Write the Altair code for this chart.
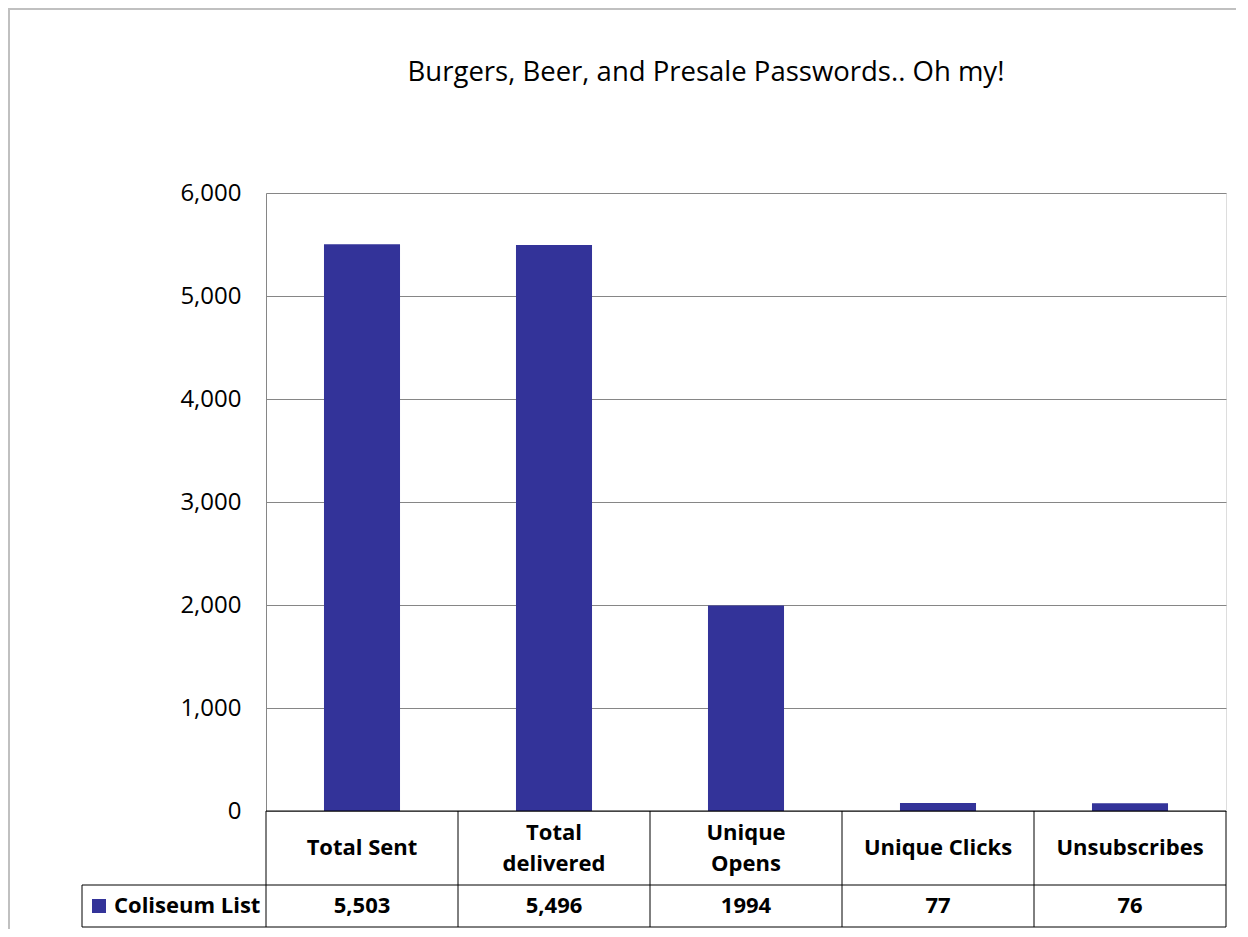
import altair as alt
import pandas as pd

# ---- data ----
categories = ["Total Sent", "Total delivered", "Unique Opens", "Unique Clicks", "Unsubscribes"]
category_lines = [["Total Sent"], ["Total", "delivered"], ["Unique", "Opens"], ["Unique Clicks"], ["Unsubscribes"]]
values = [5503, 5496, 1994, 77, 76]
value_labels = ["5,503", "5,496", "1994", "77", "76"]
series_name = "Coliseum List"
title_text = "Burgers, Beer, and Presale Passwords.. Oh my!"
y_ticks = [0, 1000, 2000, 3000, 4000, 5000, 6000]

df = pd.DataFrame({
    "category": categories,
    "lines": category_lines,
    "value": values,
    "vlabel": value_labels,
})

BAR = "#333399"
FONT = "Open Sans"
TFS = 22          # table font size
LH = 31           # table line height
W, H = 960, 618
ROW1_BOTTOM = 692   # px below plot top
ROW2_BOTTOM = 734
ROW1_MID = (H + ROW1_BOTTOM) / 2
ROW2_MID = (ROW1_BOTTOM + ROW2_BOTTOM) / 2
LEGEND_LEFT = -184 / 192  # legend cell starts left of plot, in column units

x_band = alt.X("category:N", sort=categories, axis=None,
               scale=alt.Scale(paddingInner=0.604, paddingOuter=0.302))

bars = alt.Chart(df).mark_bar(color=BAR).encode(
    x=x_band,
    y=alt.Y("value:Q",
            scale=alt.Scale(domain=[0, 6000], nice=False),
            axis=alt.Axis(values=y_ticks, format=",d", title=None, ticks=False,
                          grid=True, gridColor="#868686", domainColor="#868686",
                          labelFont=FONT, labelFontSize=24, labelColor="#000000",
                          labelPadding=25)),
)

cat_text = alt.Chart(df).transform_calculate(
    ypix=f"{ROW1_MID} - (length(datum.lines) - 1) * {LH / 2}"
).mark_text(
    font=FONT, fontSize=TFS, fontWeight="bold", color="#000000",
    baseline="middle", lineHeight=LH).encode(
    x=x_band, y=alt.Y("ypix:Q", scale=None, axis=None), text="lines")

val_text = alt.Chart(df).mark_text(font=FONT, fontSize=TFS, fontWeight="bold",
                                   color="#000000", baseline="middle").encode(
    x=x_band,
    y=alt.value(ROW2_MID),
    text="vlabel",
)

main = alt.layer(bars, cat_text, val_text)

# table grid in column units
n = len(categories)
vlines = pd.DataFrame({"pos": list(range(n + 1))})
x_cols = alt.X("pos:Q", scale=alt.Scale(domain=[0, n], nice=False, zero=False), axis=None)

grid_v = alt.Chart(vlines).mark_rule(color="#000000", strokeWidth=1).encode(
    x=x_cols, y=alt.value(H), y2=alt.value(ROW2_BOTTOM))

hl = pd.DataFrame({"pos": [0, LEGEND_LEFT, LEGEND_LEFT], "pos2": [n, n, n],
                   "row": ["top", "mid", "bot"]})
grid_h_top = alt.Chart(hl[hl.row == "top"]).mark_rule(color="#000000").encode(
    x=x_cols, x2="pos2:Q", y=alt.value(H))
grid_h_mid = alt.Chart(hl[hl.row == "mid"]).mark_rule(color="#000000").encode(
    x=x_cols, x2="pos2:Q", y=alt.value(ROW1_BOTTOM))
grid_h_bot = alt.Chart(hl[hl.row == "bot"]).mark_rule(color="#000000").encode(
    x=x_cols, x2="pos2:Q", y=alt.value(ROW2_BOTTOM))
legend_left = alt.Chart(pd.DataFrame({"pos": [LEGEND_LEFT]})).mark_rule(color="#000000").encode(
    x=x_cols, y=alt.value(ROW1_BOTTOM), y2=alt.value(ROW2_BOTTOM))

grid = alt.layer(grid_v, grid_h_top, grid_h_mid, grid_h_bot, legend_left)

legend_sq = alt.Chart(pd.DataFrame({"s": [series_name]})).mark_square(
    size=196, color=BAR, opacity=1, filled=True).encode(
    x=alt.value(-167), y=alt.value(ROW2_MID))
legend_txt = alt.Chart(pd.DataFrame({"s": [series_name]})).mark_text(
    font=FONT, fontSize=TFS, fontWeight="bold", color="#000000",
    align="left", baseline="middle").encode(
    x=alt.value(-152), y=alt.value(ROW2_MID), text="s:N")

title = alt.Chart(pd.DataFrame({"t": [title_text]})).mark_text(
    font=FONT, fontSize=27.5, color="#000000", align="center", baseline="middle").encode(
    x=alt.value(440), y=alt.value(-120), text="t:N")

# outer chart frame (only top and left edges fall inside the picture)
frame_top = alt.Chart(pd.DataFrame({"b": [1]})).mark_rule(
    color="#c0c0c0", strokeWidth=2).encode(
    x=alt.value(-258), x2=alt.value(1300), y=alt.value(-184))
frame_left = alt.Chart(pd.DataFrame({"b": [1]})).mark_rule(
    color="#c0c0c0", strokeWidth=2).encode(
    x=alt.value(-257), y=alt.value(-185), y2=alt.value(900))

chart = alt.layer(
    frame_top, frame_left, main, grid, legend_sq, legend_txt, title
).resolve_scale(x="independent").properties(
    width=W, height=H,
    autosize=alt.AutoSizeParams(type="none"),
    padding={"left": 258, "top": 185, "right": 10, "bottom": 118},
).configure_view(strokeWidth=0, stroke="transparent").configure(background="white")

chart.save("out.html", embed_options={"renderer": "svg", "actions": False})
